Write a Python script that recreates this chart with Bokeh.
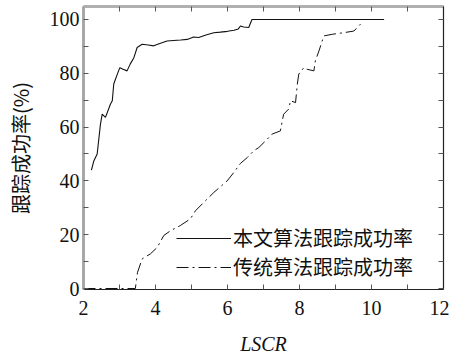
from bokeh.plotting import figure
from bokeh.models import LinearAxis, FixedTicker, Legend, LegendItem, Range1d, CustomJSTickFormatter
from bokeh.embed import file_html
from bokeh.resources import INLINE

# ---- data ----
x_ours = [2.22, 2.29, 2.38, 2.47, 2.52, 2.61, 2.75, 2.80, 2.84, 2.94, 3.01, 3.10, 3.21, 3.30,
          3.40, 3.49, 3.63, 3.80, 3.95, 4.10, 4.32, 4.50, 4.70, 4.88, 5.06, 5.20, 5.40, 5.62,
          5.80, 6.00, 6.18, 6.30, 6.36, 6.45, 6.59, 6.68, 10.35]
y_ours = [44, 47.5, 50, 61, 64.8, 63.6, 68.6, 69.8, 76, 79.7, 82.1, 81.5, 80.9, 83.5,
          85.8, 89.6, 90.8, 90.5, 90.2, 91, 92, 92.2, 92.4, 92.6, 93.5, 93.3, 94.2, 95.1,
          95.3, 95.6, 96, 96.5, 97.6, 97.2, 97, 100, 100]

x_trad = [2.0, 3.44, 3.50, 3.63, 3.86, 4.05, 4.23, 4.42, 4.69, 4.97, 5.11, 5.34, 5.62, 5.99,
          6.18, 6.36, 6.55, 6.73, 6.87, 7.06, 7.24, 7.47, 7.52, 7.56, 7.70, 7.75, 7.89, 7.94,
          7.98, 8.12, 8.21, 8.40, 8.44, 8.54, 8.63, 8.68, 8.91, 9.23, 9.51, 9.69, 9.75]
y_trad = [0, 0, 6, 11, 12.9, 15.3, 19.7, 21.5, 23.4, 25.9, 28.9, 32, 35.7, 40,
          43.2, 46.5, 48.7, 51.2, 52.4, 54.9, 57.4, 58.6, 62.3, 64.8, 66.7, 69.8, 69.1, 76,
          79.7, 82.1, 81.5, 80.9, 84.6, 88.3, 92, 93.9, 94.5, 95.1, 95.7, 98.2, 99]

x_major = [2, 4, 6, 8, 10, 12]
x_minor = [3, 5, 7, 9, 11]
y_major = [0, 20, 40, 60, 80, 100]
y_minor = [10, 30, 50, 70, 90]

label_ours = "本文算法跟踪成功率"
label_trad = "传统算法跟踪成功率"
x_title = "LSCR"
y_title = "跟踪成功率(%)"

SERIF = "Liberation Serif"
CJK = "Noto Sans CJK SC"

p = figure(width=449, height=359, output_backend="svg", toolbar_location=None,
           x_range=Range1d(2, 12), y_range=Range1d(-0.37, 104.83),
           min_border_left=83, min_border_right=6, min_border_top=6, min_border_bottom=70,
           x_axis_location=None, y_axis_location=None)
p.grid.visible = False
p.outline_line_color = None
p.background_fill_color = "white"


def style_axis(ax, ticks, minor, color, width, font):
    ax.ticker = FixedTicker(ticks=ticks, minor_ticks=minor)
    ax.axis_line_color = color
    ax.axis_line_width = width
    ax.major_tick_in = 5
    ax.major_tick_out = 0
    ax.minor_tick_in = 5
    ax.minor_tick_out = 0
    ax.major_tick_line_color = "#555555"
    ax.minor_tick_line_color = "#555555"
    if font:
        ax.major_label_text_font = font
        ax.major_label_text_font_size = "20px"
        ax.major_label_text_color = "#111111"
    else:
        ax.formatter = CustomJSTickFormatter(code="return ''")
        ax.major_label_standoff = 0


xb = LinearAxis()
style_axis(xb, x_major, x_minor, "#222222", 1.2, SERIF)
xb.major_label_standoff = 11
xb.axis_label = x_title
xb.axis_label_text_font = SERIF
xb.axis_label_text_font_style = "italic"
xb.axis_label_text_font_size = "20px"
xb.axis_label_standoff = 15
xb.axis_label_text_color = "#111111"
p.add_layout(xb, "below")

yl = LinearAxis()
style_axis(yl, y_major, y_minor, "#a8a8a8", 3, SERIF)
yl.major_label_standoff = 4
yl.axis_label = y_title
yl.axis_label_text_font = CJK
yl.axis_label_text_font_style = "normal"
yl.axis_label_text_font_size = "20px"
yl.axis_label_standoff = 12
yl.axis_label_text_color = "#111111"
p.add_layout(yl, "left")

xt = LinearAxis()
style_axis(xt, x_major, x_minor, "#b0b0b0", 3, None)
p.add_layout(xt, "above")

yr = LinearAxis()
style_axis(yr, y_major, y_minor, "#222222", 1.2, None)
p.add_layout(yr, "right")

r1 = p.line(x_ours, y_ours, line_color="#111111", line_width=1.1)
r2 = p.line(x_trad, y_trad, line_color="#111111", line_width=1.0, line_dash="12 4 2 4")

legend = Legend(items=[LegendItem(label=label_ours, renderers=[r1]),
                       LegendItem(label=label_trad, renderers=[r2])],
                location=(93, 8))
legend.label_text_font = CJK
legend.label_text_font_size = "20px"
legend.label_text_color = "#111111"
legend.glyph_width = 55
legend.glyph_height = 20
legend.label_height = 20
legend.label_standoff = 2
legend.spacing = -12
legend.padding = 0
legend.margin = 0
legend.border_line_color = None
legend.background_fill_alpha = 0
p.add_layout(legend, "center")

open("out.html", "w").write(file_html(p, INLINE))
